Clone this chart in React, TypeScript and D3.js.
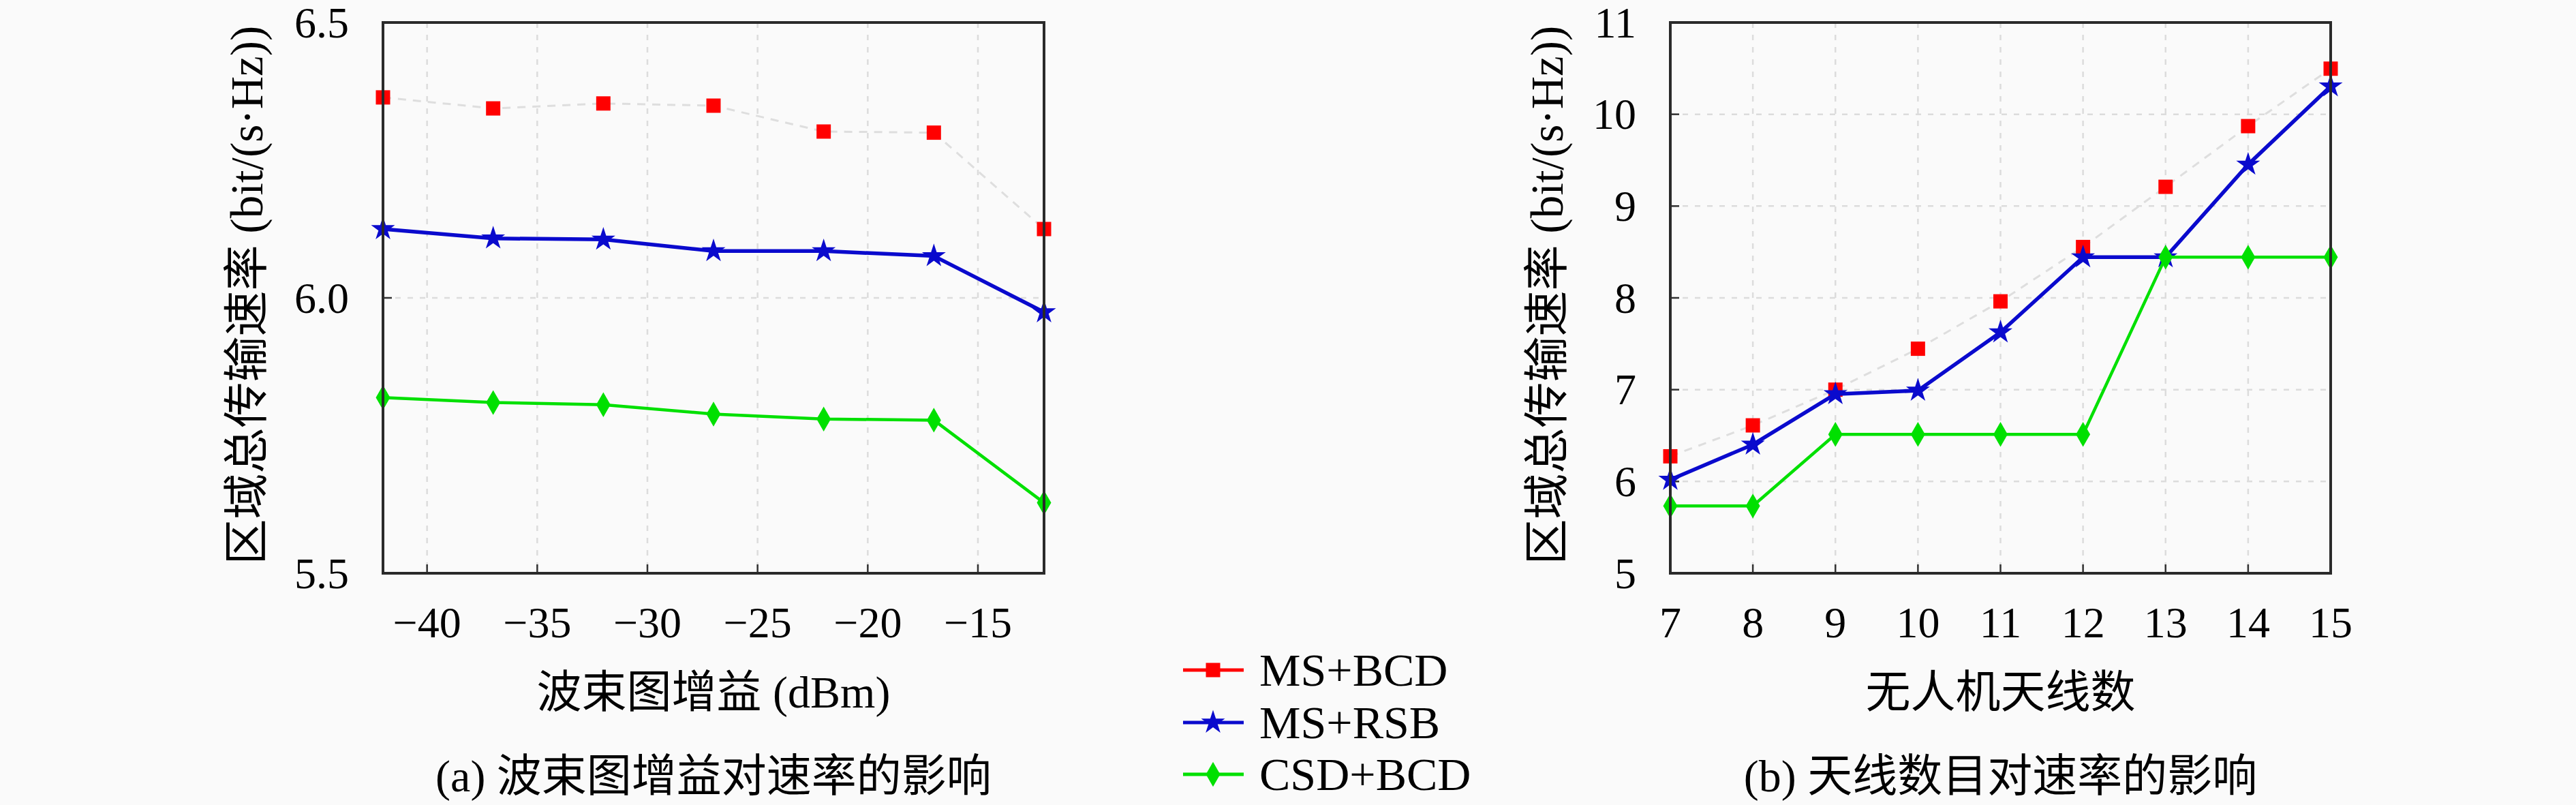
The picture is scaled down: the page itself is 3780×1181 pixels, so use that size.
import * as d3 from "d3";

// ---- data ----
const gainX = [-42, -37, -32, -27, -22, -17, -12];
const gainMsBcd = [6.364, 6.344, 6.353, 6.349, 6.302, 6.3, 6.125];
const gainMsRsb = [6.125, 6.108, 6.106, 6.085, 6.085, 6.076, 5.974];
const gainCsdBcd = [5.819, 5.81, 5.806, 5.789, 5.78, 5.778, 5.628];
const gainXTicks = [-40, -35, -30, -25, -20, -15];
const gainYTicks = [5.5, 6.0, 6.5];

const antX = [7, 8, 9, 10, 11, 12, 13, 14, 15];
const antMsBcd = [6.274, 6.611, 7.0, 7.446, 7.962, 8.554, 9.21, 9.871, 10.497];
const antMsRsb = [6.019, 6.402, 6.952, 6.99, 7.625, 8.443, 8.443, 9.453, 10.305];
const antCsdBcd = [5.733, 5.733, 6.513, 6.513, 6.513, 6.513, 8.443, 8.443, 8.443];
const antXTicks = [7, 8, 9, 10, 11, 12, 13, 14, 15];
const antYTicks = [5, 6, 7, 8, 9, 10, 11];

const seriesNames = ["MS+BCD", "MS+RSB", "CSD+BCD"];

const W = 3780;
const H = 1181;
const SERIF = "'Liberation Serif', 'DejaVu Serif', 'Noto Sans CJK SC', serif";
const RED = "#ff0000";
const BLUE = "#0a0acd";
const GREEN = "#00e000";

const squarePath = d3.symbol(d3.symbolSquare, 440)() as string;
const starPath = d3.symbol(d3.symbolStar, 380)() as string;
const diamondPath = d3.symbol(d3.symbolDiamond, 380)() as string;

const styles = [
  { line: "#dedede", width: 3, dash: "12 10", marker: squarePath, fill: RED, legendLine: RED },
  { line: BLUE, width: 5.5, dash: "none", marker: starPath, fill: BLUE, legendLine: BLUE },
  { line: GREEN, width: 4.5, dash: "none", marker: diamondPath, fill: GREEN, legendLine: GREEN },
];

const fmt = (v: number, digits: number) => {
  const s = v.toFixed(digits);
  return s.startsWith("-") ? "\u2212" + s.slice(1) : s;
};

interface PanelProps {
  left: number;
  right: number;
  xs: number[];
  series: number[][];
  xDomain: [number, number];
  yDomain: [number, number];
  xTicks: number[];
  yTicks: number[];
  yDigits: number;
  yLabelX: number;
  xTitle: string;
  caption: string;
}

const Panel = (p: PanelProps) => {
  const top = 33;
  const bottom = 841;
  const x = d3.scaleLinear().domain(p.xDomain).range([p.left, p.right]);
  const y = d3.scaleLinear().domain(p.yDomain).range([bottom, top]);
  const line = d3
    .line<number>()
    .x((_, i) => x(p.xs[i]))
    .y((d) => y(d));
  const cx = (p.left + p.right) / 2;

  return (
    <g>
      {/* grid */}
      {p.xTicks
        .filter((t) => x(t) > p.left + 2 && x(t) < p.right - 2)
        .map((t) => (
          <line key={"gx" + t} x1={x(t)} x2={x(t)} y1={top} y2={bottom}
            stroke="#dcdcdc" strokeWidth={2.5} strokeDasharray="8 10" />
        ))}
      {p.yTicks
        .filter((t) => y(t) > top + 2 && y(t) < bottom - 2)
        .map((t) => (
          <line key={"gy" + t} x1={p.left} x2={p.right} y1={y(t)} y2={y(t)}
            stroke="#dcdcdc" strokeWidth={2.5} strokeDasharray="8 10" />
        ))}

      {/* ticks (inward) */}
      {p.xTicks.map((t) => (
        <line key={"tx" + t} x1={x(t)} x2={x(t)} y1={bottom} y2={bottom - 13}
          stroke="#333" strokeWidth={2.5} />
      ))}
      {p.yTicks.map((t) => (
        <line key={"ty" + t} x1={p.left} x2={p.left + 13} y1={y(t)} y2={y(t)}
          stroke="#333" strokeWidth={2.5} />
      ))}

      {/* series */}
      {p.series.map((vals, si) => (
        <g key={"s" + si}>
          <path d={line(vals) as string} fill="none" stroke={styles[si].line}
            strokeWidth={styles[si].width} strokeDasharray={styles[si].dash}
            strokeLinejoin="round" />
          {vals.map((v, i) => (
            <path key={i} d={styles[si].marker} fill={styles[si].fill}
              transform={`translate(${x(p.xs[i])},${y(v)})`} />
          ))}
        </g>
      ))}

      {/* frame */}
      <rect x={p.left} y={top} width={p.right - p.left} height={bottom - top}
        fill="none" stroke="#2a2a2a" strokeWidth={4} />

      {/* tick labels */}
      {p.xTicks.map((t) => (
        <text key={"lx" + t} x={x(t)} y={935} textAnchor="middle"
          fontFamily={SERIF} fontSize={64}>{fmt(t, 0)}</text>
      ))}
      {p.yTicks.map((t) => (
        <text key={"ly" + t} x={p.left - 50} y={y(t)} textAnchor="end"
          dominantBaseline="central" fontFamily={SERIF} fontSize={64}>
          {fmt(t, p.yDigits)}
        </text>
      ))}

      {/* axis titles */}
      <text transform={`translate(${p.yLabelX},${(top + bottom) / 2 - 4}) rotate(-90)`}
        textAnchor="middle" dominantBaseline="central" fontFamily={SERIF} fontSize={67}>
        区域总传输速率 (bit/(s·Hz))
      </text>
      <text x={cx} y={1015} textAnchor="middle" dominantBaseline="central"
        fontFamily={SERIF} fontSize={66}>{p.xTitle}</text>
      <text x={cx} y={1138} textAnchor="middle" dominantBaseline="central"
        fontFamily={SERIF} fontSize={66}>{p.caption}</text>
    </g>
  );
};

const App = () => {
  const legendRows = [983, 1060, 1136];
  return (
    <svg width={W} height={H} viewBox={`0 0 ${W} ${H}`}
      style={{ position: "absolute", left: 0, top: 0, background: "#fafafa" }}>
      <rect width={W} height={H} fill="#fafafa" />
      <Panel left={562} right={1532} xs={gainX}
        series={[gainMsBcd, gainMsRsb, gainCsdBcd]}
        xDomain={[-42, -12]} yDomain={[5.5, 6.5]}
        xTicks={gainXTicks} yTicks={gainYTicks} yDigits={1}
        yLabelX={362} xTitle="波束图增益 (dBm)" caption="(a) 波束图增益对速率的影响" />
      <Panel left={2451} right={3420} xs={antX}
        series={[antMsBcd, antMsRsb, antCsdBcd]}
        xDomain={[7, 15]} yDomain={[5, 11]}
        xTicks={antXTicks} yTicks={antYTicks} yDigits={0}
        yLabelX={2270} xTitle="无人机天线数" caption="(b) 天线数目对速率的影响" />

      {/* legend */}
      {seriesNames.map((name, i) => (
        <g key={name}>
          <line x1={1736} x2={1825} y1={legendRows[i]} y2={legendRows[i]}
            stroke={styles[i].legendLine} strokeWidth={5} />
          <path d={styles[i].marker} fill={styles[i].fill}
            transform={`translate(1780,${legendRows[i]})`} />
          <text x={1848} y={legendRows[i]} dominantBaseline="central"
            fontFamily={SERIF} fontSize={68}>{name}</text>
        </g>
      ))}
    </svg>
  );
};

export default App;
